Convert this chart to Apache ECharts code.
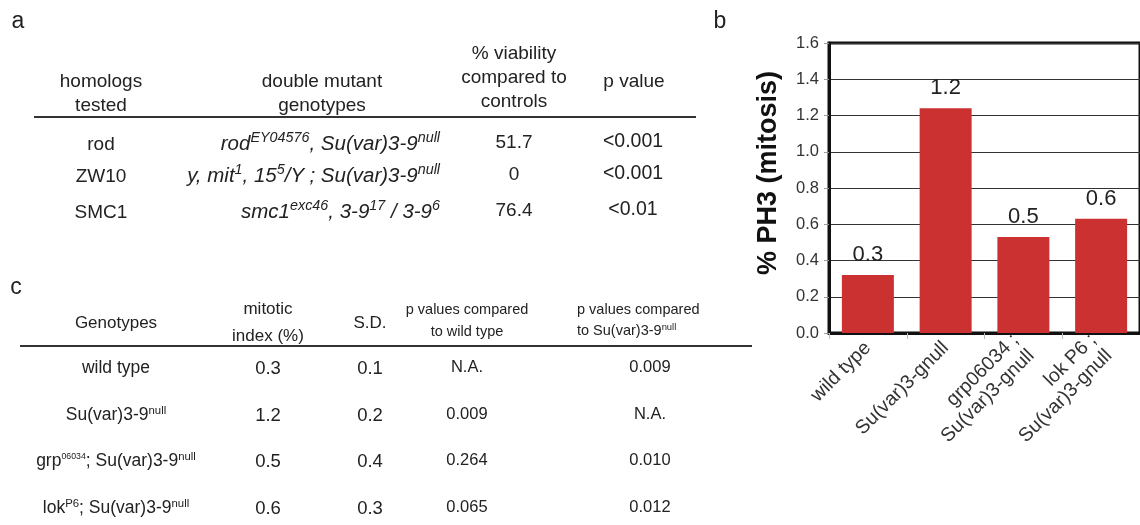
<!DOCTYPE html>
<html>
<head>
<meta charset="utf-8">
<script src="https://cdn.jsdelivr.net/npm/echarts@6/dist/echarts.min.js"></script>
<style>
  html, body { margin: 0; padding: 0; background: #fff; }
  #wrap { position: relative; width: 1140px; height: 525px; overflow: hidden; font-family: "Liberation Sans", Arial, sans-serif; color: #222; }
  #chart { position: absolute; left: 0; top: 0; width: 1140px; height: 525px; }
  .t { position: absolute; white-space: nowrap; transform: translate(-50%, -50%); line-height: 1; }
  .r { transform: translate(-100%, -50%); }
  .l { transform: translate(0, -50%); }
  sup { font-size: 65%; vertical-align: 0; position: relative; top: -0.55em; line-height: 0; }
  .big sup { font-size: 70%; }
  .rule { position: absolute; height: 0; border-top: 2px solid #333; }
</style>
</head>
<body>
<div id="wrap">
  <div id="chart"></div>
</div>
<script>
// ---------- Panel a data ----------
const aHeaders = [["homologs", "tested"], ["double mutant", "genotypes"], ["% viability", "compared to", "controls"], ["p value"]];
const aHomologs = ["rod", "ZW10", "SMC1"];
const aGenotypes = [
  "rod<sup>EY04576</sup>, Su(var)3-9<sup>null</sup>",
  "y, mit<sup>1</sup>, 15<sup>5</sup>/Y ; Su(var)3-9<sup>null</sup>",
  "smc1<sup>exc46</sup>, 3-9<sup>17</sup> / 3-9<sup>6</sup>"
];
const aViability = ["51.7", "0", "76.4"];
const aPValues = ["<0.001", "<0.001", "<0.01"];

// ---------- Panel c data ----------
const cHeaders = [["Genotypes"], ["mitotic", "index (%)"], ["S.D."], ["p values compared", "to wild type"], ["p values compared", "to Su(var)3-9<sup>null</sup>"]];
const cGenotypes = [
  "wild type",
  "Su(var)3-9<sup>null</sup>",
  "grp<sup class='tiny'>06034</sup>; Su(var)3-9<sup>null</sup>",
  "lok<sup>P6</sup>; Su(var)3-9<sup>null</sup>"
];
const cMitotic = ["0.3", "1.2", "0.5", "0.6"];
const cSD = ["0.1", "0.2", "0.4", "0.3"];
const cPvsWT = ["N.A.", "0.009", "0.264", "0.065"];
const cPvsNull = ["0.009", "N.A.", "0.010", "0.012"];

// ---------- Panel b data ----------
const bCategories = ["wild type", "Su(var)3-gnull", "grp06034 ;\nSu(var)3-gnull", "lok P6 ;\nSu(var)3-gnull"];
const bValues = [0.32, 1.24, 0.53, 0.63];
const bYTicks = { min: 0, max: 1.6, interval: 0.2 };

// ---------- helpers ----------
const wrap = document.getElementById('wrap');
function txt(html, x, y, size, cls, extra) {
  const d = document.createElement('div');
  d.className = 't' + (cls ? ' ' + cls : '');
  d.style.left = x + 'px';
  d.style.top = y + 'px';
  d.style.fontSize = size + 'px';
  if (extra) Object.assign(d.style, extra);
  d.innerHTML = html;
  wrap.appendChild(d);
  return d;
}
function rule(x1, x2, y) {
  const d = document.createElement('div');
  d.className = 'rule';
  d.style.left = x1 + 'px';
  d.style.width = (x2 - x1) + 'px';
  d.style.top = y + 'px';
  wrap.appendChild(d);
}
function esc(s) { return s.replace(/</g, '&lt;'); }

// ---------- Panel labels ----------
txt('a', 18, 20, 23);
txt('b', 720, 20, 23);
txt('c', 16, 286, 23);

// ---------- Panel a ----------
const aColX = [101, 322, 514, 634];
const aLineH = 24;
const aHeadBottom = [104, 104, 100, 80];
aHeaders.forEach((lines, i) => {
  lines.forEach((ln, j) => {
    txt(ln, aColX[i], aHeadBottom[i] - (lines.length - 1 - j) * aLineH, 19);
  });
});
rule(34, 696, 116);
const aRowY = [143, 175, 211];
aHomologs.forEach((h, i) => {
  txt(h, aColX[0], aRowY[i], 19);
  txt(aGenotypes[i], 440, aRowY[i], 20.5, 'r big', { fontStyle: 'italic' });
  txt(aViability[i], 514, aRowY[i] - 2, 19);
  txt(esc(aPValues[i]), 633, aRowY[i] - 2, 19.5);
});

// ---------- Panel c ----------
const cColX = [116, 268, 370, 467, 650];
const cHeadY = [[322], [308, 335], [322], [309, 331], [309, 330]];
const cHeadSize = [17, 17, 17, 14.5, 14.5];
cHeaders.forEach((lines, i) => {
  lines.forEach((ln, j) => {
    if (i === 4) txt(ln, 577, cHeadY[i][j], cHeadSize[i], 'l');
    else txt(ln, cColX[i], cHeadY[i][j], cHeadSize[i]);
  });
});
rule(20, 752, 345);
const cRowY = [368, 415, 461, 508];
cGenotypes.forEach((g, i) => {
  const el = txt(g, cColX[0], cRowY[i], 17.5);
  el.querySelectorAll('sup.tiny').forEach(s => { s.style.fontSize = '50%'; s.style.top = '-0.8em'; });
  txt(cMitotic[i], cColX[1], cRowY[i], 18.5);
  txt(cSD[i], cColX[2], cRowY[i], 18.5);
  txt(cPvsWT[i], cColX[3], cRowY[i] - 2, 16.5);
  txt(cPvsNull[i], cColX[4], cRowY[i] - 2, 16.5);
});

// ---------- Panel b (ECharts bar chart) ----------
const chart = echarts.init(document.getElementById('chart'), null, { renderer: 'canvas' });
chart.setOption({
  animation: false,
  backgroundColor: 'transparent',
  textStyle: { fontFamily: 'Liberation Sans' },
  grid: {
    left: 829, top: 43, right: 0, bottom: 192,
    show: true, borderColor: '#111', borderWidth: 3, backgroundColor: 'transparent'
  },
  xAxis: {
    type: 'category',
    data: bCategories,
    axisLine: { show: true, lineStyle: { color: '#111', width: 3 } },
    axisTick: { show: true, alignWithLabel: false, length: 6, lineStyle: { color: '#bbb', width: 1 } },
    axisLabel: { interval: 0, rotate: 45, fontSize: 19.5, color: '#333', margin: 12, lineHeight: 22 }
  },
  yAxis: {
    type: 'value',
    min: bYTicks.min, max: bYTicks.max, interval: bYTicks.interval,
    name: '% PH3 (mitosis)',
    nameLocation: 'middle',
    nameGap: 47,
    nameTextStyle: { fontSize: 27, fontWeight: 'bold', color: '#111', padding: [0, 0, 0, 30] },
    axisLine: { show: true, lineStyle: { color: '#111', width: 3 } },
    axisTick: { show: true, length: 5, lineStyle: { color: '#999' } },
    axisLabel: { fontSize: 16.5, color: '#333', margin: 10, formatter: v => v.toFixed(1) },
    splitLine: { show: true, lineStyle: { color: '#333', width: 1 } }
  },
  series: [{
    type: 'bar',
    data: bValues,
    barWidth: 52,
    itemStyle: { color: '#cc3131' },
    label: {
      show: true, position: 'top', distance: 9, fontSize: 22, color: '#222',
      formatter: p => p.value.toFixed(1)
    }
  }]
});
</script>
</body>
</html>
